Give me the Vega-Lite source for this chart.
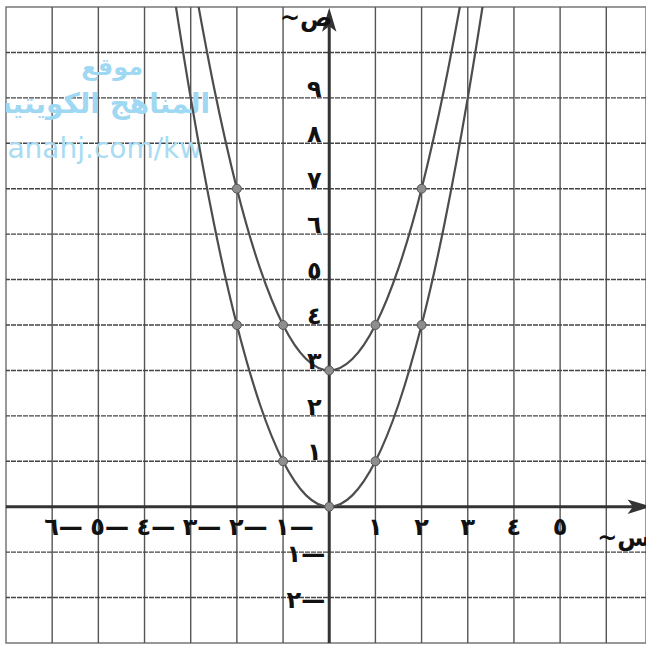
{
  "$schema": "https://vega.github.io/schema/vega-lite/v6.json",
  "width": 640,
  "height": 636,
  "autosize": "none",
  "padding": {"left": 6, "top": 7, "right": 0, "bottom": 4},
  "background": "white",
  "config": {"view": {"stroke": "#777", "strokeWidth": 1.5}},
  "datasets": {
    "vgrid": [{"x": -6}, {"x": -5}, {"x": -4}, {"x": -3}, {"x": -2}, {"x": -1}, {"x": 1}, {"x": 2}, {"x": 3}, {"x": 4}, {"x": 5}, {"x": 6}],
    "hgrid": [{"y": -2}, {"y": -1}, {"y": 1}, {"y": 2}, {"y": 3}, {"y": 4}, {"y": 5}, {"y": 6}, {"y": 7}, {"y": 8}, {"y": 9}, {"y": 10}],
    "axes": [
      {"axis": "x", "x": -7, "x2": 6.7, "y": 0, "y2": 0},
      {"axis": "y", "x": 0, "x2": 0, "y": -3, "y2": 10.7}
    ],
    "curves": [
      {"s": "a", "x": -3.35, "y": 11.2}, {"s": "a", "x": -3, "y": 9}, {"s": "a", "x": -2.5, "y": 6.25}, {"s": "a", "x": -2, "y": 4}, {"s": "a", "x": -1.5, "y": 2.25}, {"s": "a", "x": -1, "y": 1}, {"s": "a", "x": -0.5, "y": 0.25}, {"s": "a", "x": 0, "y": 0}, {"s": "a", "x": 0.5, "y": 0.25}, {"s": "a", "x": 1, "y": 1}, {"s": "a", "x": 1.5, "y": 2.25}, {"s": "a", "x": 2, "y": 4}, {"s": "a", "x": 2.5, "y": 6.25}, {"s": "a", "x": 3, "y": 9}, {"s": "a", "x": 3.35, "y": 11.2},
      {"s": "b", "x": -2.9, "y": 11.4}, {"s": "b", "x": -2.5, "y": 9.25}, {"s": "b", "x": -2, "y": 7}, {"s": "b", "x": -1.5, "y": 5.25}, {"s": "b", "x": -1, "y": 4}, {"s": "b", "x": -0.5, "y": 3.25}, {"s": "b", "x": 0, "y": 3}, {"s": "b", "x": 0.5, "y": 3.25}, {"s": "b", "x": 1, "y": 4}, {"s": "b", "x": 1.5, "y": 5.25}, {"s": "b", "x": 2, "y": 7}, {"s": "b", "x": 2.5, "y": 9.25}, {"s": "b", "x": 2.9, "y": 11.4}
    ],
    "points": [
      {"x": -2, "y": 4}, {"x": -1, "y": 1}, {"x": 0, "y": 0}, {"x": 1, "y": 1}, {"x": 2, "y": 4},
      {"x": -2, "y": 7}, {"x": -1, "y": 4}, {"x": 0, "y": 3}, {"x": 1, "y": 4}, {"x": 2, "y": 7}
    ],
    "arrows": [
      {"dir": "up", "x": 0, "y": 10.72},
      {"dir": "right", "x": 6.72, "y": 0}
    ],
    "xpos": [{"x": 1, "t": "١"}, {"x": 2, "t": "٢"}, {"x": 3, "t": "٣"}, {"x": 4, "t": "٤"}, {"x": 5, "t": "٥"}],
    "xneg": [{"x": -1, "t": "١—"}, {"x": -2, "t": "٢—"}, {"x": -3, "t": "٣—"}, {"x": -4, "t": "٤—"}, {"x": -5, "t": "٥—"}, {"x": -6, "t": "٦—"}],
    "ypos": [{"y": 1, "t": "١"}, {"y": 2, "t": "٢"}, {"y": 3, "t": "٣"}, {"y": 4, "t": "٤"}, {"y": 5, "t": "٥"}, {"y": 6, "t": "٦"}, {"y": 7, "t": "٧"}, {"y": 8, "t": "٨"}, {"y": 9, "t": "٩"}],
    "yneg": [{"y": -1, "t": "١—"}, {"y": -2, "t": "٢—"}],
    "titles": [
      {"x": -0.5, "y": 10.74, "t": "~ص"},
      {"x": 6.38, "y": -0.72, "t": "~س"}
    ],
    "watermark": [
      {"x": -4.7, "y": 9.66, "t": "موقع", "k": "a"},
      {"x": -2.58, "y": 8.84, "t": "المناهج الكويتية", "k": "b"},
      {"x": -2.75, "y": 7.85, "t": "almanahj.com/kw", "k": "c"}
    ]
  },
  "layer": [
    {
      "data": {"name": "vgrid"},
      "mark": {"type": "rule", "color": "#555", "strokeWidth": 1.4},
      "encoding": {"x": {"field": "x", "type": "quantitative", "scale": {"domain": [-7, 6.86], "nice": false, "zero": false}, "axis": null}}
    },
    {
      "data": {"name": "hgrid"},
      "mark": {"type": "rule", "color": "#444", "strokeWidth": 1.4, "strokeDash": [5, 1]},
      "encoding": {"y": {"field": "y", "type": "quantitative", "scale": {"domain": [-3, 11], "nice": false, "zero": false}, "axis": null}}
    },
    {
      "data": {"name": "watermark"},
      "transform": [{"filter": "datum.k == 'a'"}],
      "mark": {"type": "text", "font": "DejaVu Sans", "fontWeight": "bold", "fontSize": 24, "color": "#9fd8f2", "align": "center", "baseline": "middle", "clip": true},
      "encoding": {"x": {"field": "x", "type": "quantitative"}, "y": {"field": "y", "type": "quantitative"}, "text": {"field": "t"}}
    },
    {
      "data": {"name": "watermark"},
      "transform": [{"filter": "datum.k == 'b'"}],
      "mark": {"type": "text", "font": "DejaVu Sans", "fontWeight": "bold", "fontSize": 28, "color": "#9fd8f2", "align": "right", "baseline": "middle", "clip": true},
      "encoding": {"x": {"field": "x", "type": "quantitative"}, "y": {"field": "y", "type": "quantitative"}, "text": {"field": "t"}}
    },
    {
      "data": {"name": "watermark"},
      "transform": [{"filter": "datum.k == 'c'"}],
      "mark": {"type": "text", "font": "DejaVu Sans", "fontSize": 28, "color": "#a9dcf3", "align": "right", "baseline": "middle", "clip": true},
      "encoding": {"x": {"field": "x", "type": "quantitative"}, "y": {"field": "y", "type": "quantitative"}, "text": {"field": "t"}}
    },
    {
      "data": {"name": "axes"},
      "mark": {"type": "rule", "color": "#333", "strokeWidth": 3},
      "encoding": {
        "x": {"field": "x", "type": "quantitative"},
        "x2": {"field": "x2"},
        "y": {"field": "y", "type": "quantitative"},
        "y2": {"field": "y2"}
      }
    },
    {
      "data": {"name": "curves"},
      "mark": {"type": "line", "interpolate": "natural", "strokeWidth": 2.2, "clip": true},
      "encoding": {
        "x": {"field": "x", "type": "quantitative"},
        "y": {"field": "y", "type": "quantitative"},
        "detail": {"field": "s"},
        "color": {"value": "#4d4d4d"}
      }
    },
    {
      "data": {"name": "points"},
      "mark": {"type": "point", "shape": "circle", "filled": true, "size": 80, "fill": "#8e8e8e", "stroke": "#555", "strokeWidth": 1, "opacity": 1},
      "encoding": {"x": {"field": "x", "type": "quantitative"}, "y": {"field": "y", "type": "quantitative"}}
    },
    {
      "data": {"name": "arrows"},
      "transform": [{"filter": "datum.dir == 'up'"}],
      "mark": {"type": "point", "shape": "M0,-1L0.6,1L0,0.55L-0.6,1Z", "filled": true, "size": 576, "color": "#333", "opacity": 1},
      "encoding": {"x": {"field": "x", "type": "quantitative"}, "y": {"field": "y", "type": "quantitative"}}
    },
    {
      "data": {"name": "arrows"},
      "transform": [{"filter": "datum.dir == 'right'"}],
      "mark": {"type": "point", "shape": "M0,-1L0.6,1L0,0.55L-0.6,1Z", "filled": true, "size": 576, "angle": 90, "color": "#333", "opacity": 1},
      "encoding": {"x": {"field": "x", "type": "quantitative"}, "y": {"field": "y", "type": "quantitative"}}
    },
    {
      "data": {"name": "xpos"},
      "mark": {"type": "text", "font": "DejaVu Sans", "fontWeight": "bold", "fontSize": 24, "color": "#111", "align": "center", "baseline": "middle", "dy": 21},
      "encoding": {"x": {"field": "x", "type": "quantitative"}, "y": {"datum": 0, "type": "quantitative"}, "text": {"field": "t"}}
    },
    {
      "data": {"name": "xneg"},
      "mark": {"type": "text", "font": "DejaVu Sans", "fontWeight": "bold", "fontSize": 24, "color": "#111", "align": "left", "baseline": "middle", "dx": -8, "dy": 21},
      "encoding": {"x": {"field": "x", "type": "quantitative"}, "y": {"datum": 0, "type": "quantitative"}, "text": {"field": "t"}}
    },
    {
      "data": {"name": "ypos"},
      "mark": {"type": "text", "font": "DejaVu Sans", "fontWeight": "bold", "fontSize": 24, "color": "#111", "align": "center", "baseline": "middle", "dx": -15, "dy": -8},
      "encoding": {"x": {"datum": 0, "type": "quantitative"}, "y": {"field": "y", "type": "quantitative"}, "text": {"field": "t"}}
    },
    {
      "data": {"name": "yneg"},
      "mark": {"type": "text", "font": "DejaVu Sans", "fontWeight": "bold", "fontSize": 24, "color": "#111", "align": "right", "baseline": "middle", "dx": -4, "dy": 3},
      "encoding": {"x": {"datum": 0, "type": "quantitative"}, "y": {"field": "y", "type": "quantitative"}, "text": {"field": "t"}}
    },
    {
      "data": {"name": "titles"},
      "mark": {"type": "text", "font": "DejaVu Sans", "fontWeight": "bold", "fontSize": 24, "color": "#111", "align": "center", "baseline": "middle"},
      "encoding": {"x": {"field": "x", "type": "quantitative"}, "y": {"field": "y", "type": "quantitative"}, "text": {"field": "t"}}
    }
  ]
}
